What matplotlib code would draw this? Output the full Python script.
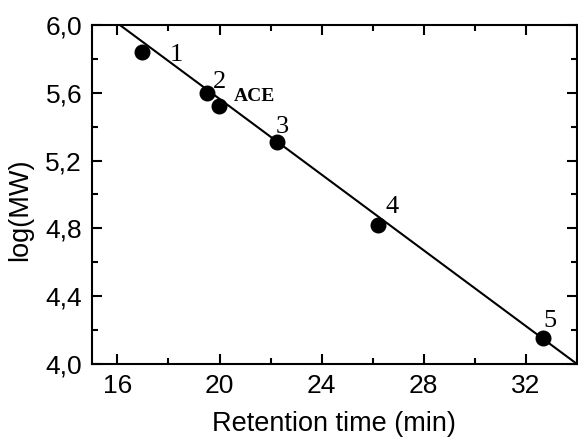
import numpy as np
import matplotlib
matplotlib.use('Agg')
import matplotlib.pyplot as plt
from matplotlib.ticker import MultipleLocator, FuncFormatter

# retention time (min) and log(MW) of the standards + ACE
rt = [16.98, 19.49, 19.98, 22.24, 26.19, 32.69]
logmw = [5.84, 5.60, 5.52, 5.31, 4.82, 4.15]

# calibration line end points
fit_x = [16.1, 34.0]
fit_y = [6.0, 4.0]

labels = ['1', '2', '3', '4', '5']
label_x = [18.05, 19.75, 22.22, 26.5, 32.7]
label_y = [5.79, 5.627, 5.363, 4.891, 4.22]

plt.rcParams['font.family'] = ['Liberation Sans', 'DejaVu Sans']

fig = plt.figure(figsize=(5.78, 4.40), dpi=100)
ax = fig.add_axes([0.159, 0.173, 0.839, 0.770])

ax.plot(fit_x, fit_y, color='black', lw=1.5, zorder=2)
ax.plot(rt, logmw, 'o', color='black', ms=10.5, zorder=3)

for s, x, y in zip(labels, label_x, label_y):
    ax.text(x, y, s, fontsize=19, family='Liberation Serif', ha='left', va='baseline')
ax.text(20.55, 5.553, 'ACE', fontsize=14, family='Liberation Serif', fontweight='bold',
        ha='left', va='baseline')

ax.set_xlim(15, 34)
ax.set_ylim(4.0, 6.0)
ax.xaxis.set_major_locator(MultipleLocator(4))
ax.xaxis.set_minor_locator(MultipleLocator(2))
ax.yaxis.set_major_locator(MultipleLocator(0.4))
ax.yaxis.set_minor_locator(MultipleLocator(0.2))
ax.yaxis.set_major_formatter(FuncFormatter(lambda v, p: ('%.1f' % v).replace('.', ',')))

ax.tick_params(which='both', direction='in', top=True, right=True, width=1.5, labelsize=19, pad=7)
ax.tick_params(which='major', length=7)
ax.tick_params(which='minor', length=4)
for sp in ax.spines.values():
    sp.set_linewidth(1.5)

ax.set_xlabel('Retention time (min)', fontsize=19.5, labelpad=10)
ax.set_ylabel('log(MW)', fontsize=19.5)
ax.yaxis.set_label_coords(-0.122, 0.455)

fig.savefig('out.png', dpi=100)
